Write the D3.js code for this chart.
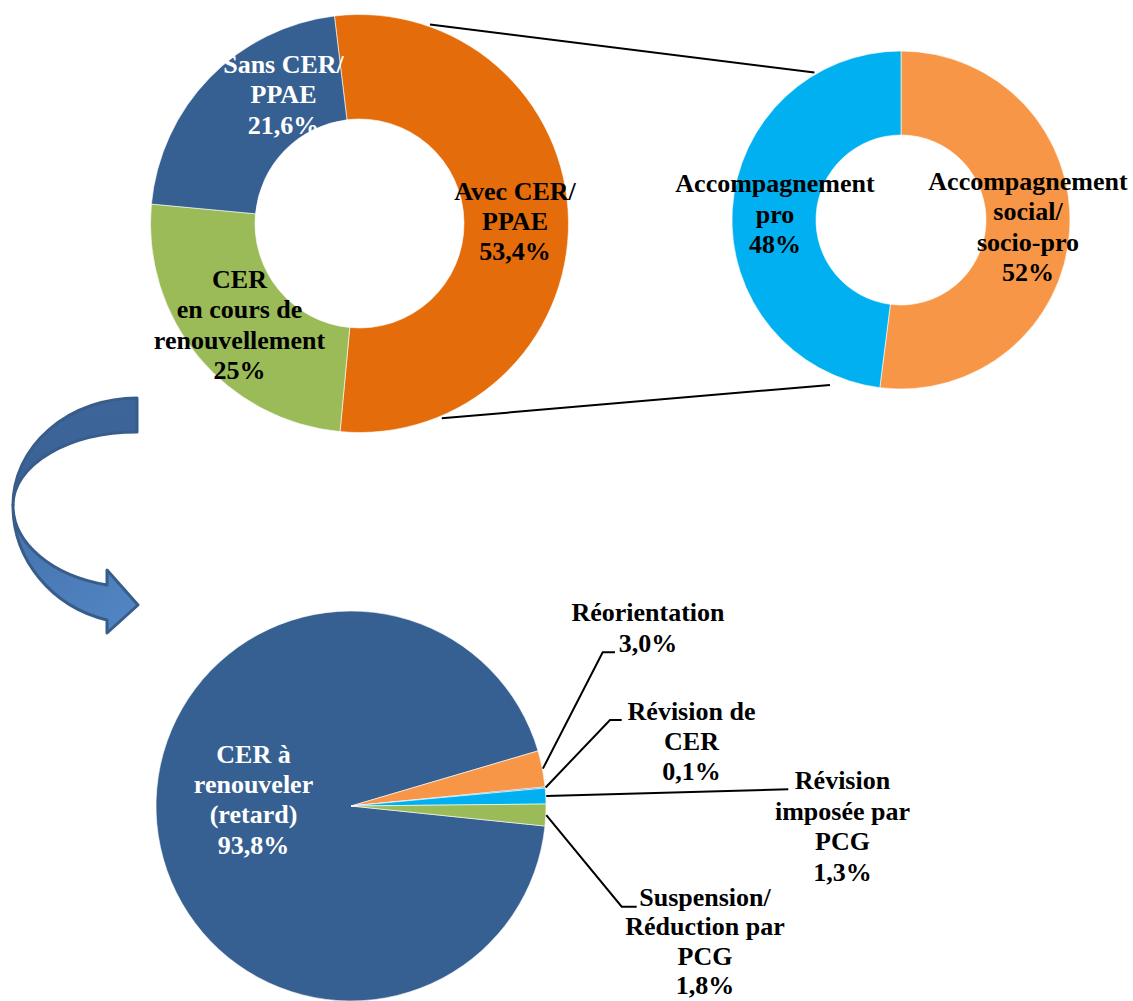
<!DOCTYPE html>
<html><head><meta charset="utf-8">
<script src="https://cdn.jsdelivr.net/npm/d3@7/dist/d3.min.js"></script>
<style>html,body{margin:0;padding:0;background:#fff;} svg{display:block;}</style>
</head><body>
<script>
// ---------- DATA ----------
const donut1Labels = [["Avec CER/", "PPAE"], ["CER", "en cours de", "renouvellement"], ["Sans CER/", "PPAE"]];
const donut1Values = [53.4, 25, 21.6];
const donut1Text   = ["53,4%", "25%", "21,6%"];

const donut2Labels = [["Accompagnement", "social/", "socio-pro"], ["Accompagnement", "pro"]];
const donut2Values = [52, 48];
const donut2Text   = ["52%", "48%"];

const pieLabels = [["CER à", "renouveler", "(retard)"], ["Réorientation"], ["Révision de", "CER"], ["Révision", "imposée par", "PCG"], ["Suspension/", "Réduction par", "PCG"]];
const pieValues = [93.8, 3.0, 0.1, 1.3, 1.8];
const pieText   = ["93,8%", "3,0%", "0,1%", "1,3%", "1,8%"];

// ---------- STYLE / LAYOUT ----------
const W = 1133, H = 1001;
const FONT = "'Liberation Serif','Times New Roman',serif";
const deg = Math.PI / 180;

const D1 = {cx: 359.5, cy: 223.5, r: 209, ri: 104.5, start: -6.9 * deg,
  colors: ["#e46c0a", "#9bbb59", "#376092"],
  textColors: ["#000", "#000", "#fff"],
  labelPos: [[515, 199.5], [239.5, 288], [283.5, 73]],
  lh: [30.3, 30.3, 30.3]};
const D2 = {cx: 901, cy: 220, r: 169, ri: 85, start: 0,
  colors: ["#f79646", "#00b0f0"],
  textColors: ["#000", "#000"],
  labelPos: [[1028, 190], [775, 192]],
  lh: [30.3, 30.5]};
const P3 = {cx: 351, cy: 806, r: 195, start: 95.9 * deg,
  colors: ["#376092", "#f79646", "#2f6db0", "#00b0f0", "#9bbb59"],
  textColors: ["#fff", "#000", "#000", "#000", "#000"],
  labelPos: [[253.5, 763], [648, 621], [691.5, 720], [842.5, 789], [705, 906]],
  lh: [30.2, 30.5, 30, 30.6, 29.3],
  // leader elbow (x,y) then horizontal end x ; null = no leader
  leaders: [null, [602.7, 652.3, 615], [610, 720, 621.7], [788.3, 789.3, 788.3], [621.7, 906.7, 636.7]]};

const svg = d3.select("body").append("svg").attr("width", W).attr("height", H)
  .attr("font-family", FONT).attr("font-weight", "bold").attr("font-size", 26);

// ---------- ARROW ----------
const defs = svg.append("defs");
const g1 = defs.append("linearGradient").attr("id", "arrowLow").attr("x1", 0).attr("y1", 0).attr("x2", 1).attr("y2", 1);
g1.append("stop").attr("offset", "0%").attr("stop-color", "#4573ad");
g1.append("stop").attr("offset", "100%").attr("stop-color", "#5286c5");
const g2 = defs.append("linearGradient").attr("id", "arrowHigh").attr("x1", 0).attr("y1", 0).attr("x2", 0).attr("y2", 1);
g2.append("stop").attr("offset", "0%").attr("stop-color", "#3d659a");
g2.append("stop").attr("offset", "100%").attr("stop-color", "#3a6296");

const arrow = svg.append("g").attr("stroke", "#385d8a").attr("stroke-width", 3).attr("stroke-linejoin", "round");
arrow.append("path").attr("fill", "url(#arrowLow)")
  .attr("d", "M 13,505 A 125,118 0 0 0 107,620 L 107,633 L 138,605 L 107,570 L 107,585 A 125,82 0 0 1 13,505 Z");
arrow.append("path").attr("fill", "url(#arrowHigh)")
  .attr("d", "M 137,398 L 137,432 A 124,73 0 0 0 13,505 A 124,107 0 0 1 137,398 Z");

// ---------- helpers ----------
function polar(c, a, r) { return [c.cx + r * Math.sin(a), c.cy - r * Math.cos(a)]; }

function drawPie(cfg, values, inner) {
  const pie = d3.pie().sort(null).value(d => d).startAngle(cfg.start).endAngle(cfg.start + 2 * Math.PI);
  const arcs = pie(values);
  const arc = d3.arc().innerRadius(inner).outerRadius(cfg.r);
  svg.append("g").attr("transform", `translate(${cfg.cx},${cfg.cy})`)
    .selectAll("path").data(arcs).join("path")
    .attr("d", arc).attr("fill", (d, i) => cfg.colors[i])
    .attr("stroke", "#fff").attr("stroke-width", 0.6);
  return arcs;
}

function drawLabel(lines, value, pos, color, lh) {
  const t = svg.append("text").attr("text-anchor", "middle").attr("fill", color);
  lines.concat([value]).forEach((s, k) => {
    t.append("tspan").attr("x", pos[0]).attr("y", pos[1] + k * lh).text(s);
  });
}

// ---------- DONUT 1 ----------
drawPie(D1, donut1Values, D1.ri);
// ---------- DONUT 2 ----------
drawPie(D2, donut2Values, D2.ri);

// connector lines between donuts
const conn = svg.append("g").attr("stroke", "#000").attr("stroke-width", 2);
const p1a = polar(D1, 19.5 * deg, 211), p2a = polar(D2, -30.4 * deg, 171);
const p1b = polar(D1, 157.1 * deg, 211.4), p2b = polar(D2, 203.3 * deg, 179.6);
conn.append("line").attr("x1", p1a[0]).attr("y1", p1a[1]).attr("x2", p2a[0]).attr("y2", p2a[1]);
conn.append("line").attr("x1", p1b[0]).attr("y1", p1b[1]).attr("x2", p2b[0]).attr("y2", p2b[1]);

donut1Labels.forEach((l, i) => drawLabel(l, donut1Text[i], D1.labelPos[i], D1.textColors[i], D1.lh[i]));
donut2Labels.forEach((l, i) => drawLabel(l, donut2Text[i], D2.labelPos[i], D2.textColors[i], D2.lh[i]));

// ---------- PIE 3 ----------
const a3 = drawPie(P3, pieValues, 0);
const lead = svg.append("g").attr("stroke", "#000").attr("stroke-width", 2).attr("fill", "none");
a3.forEach((d, i) => {
  const L = P3.leaders[i];
  if (!L) return;
  const mid = (d.startAngle + d.endAngle) / 2;
  const p = polar(P3, mid, P3.r + 0.5);
  lead.append("path").attr("d", `M${p[0]},${p[1]} L${L[0]},${L[1]} L${L[2]},${L[1]}`);
});
pieLabels.forEach((l, i) => drawLabel(l, pieText[i], P3.labelPos[i], P3.textColors[i], P3.lh[i]));
</script>
</body></html>
